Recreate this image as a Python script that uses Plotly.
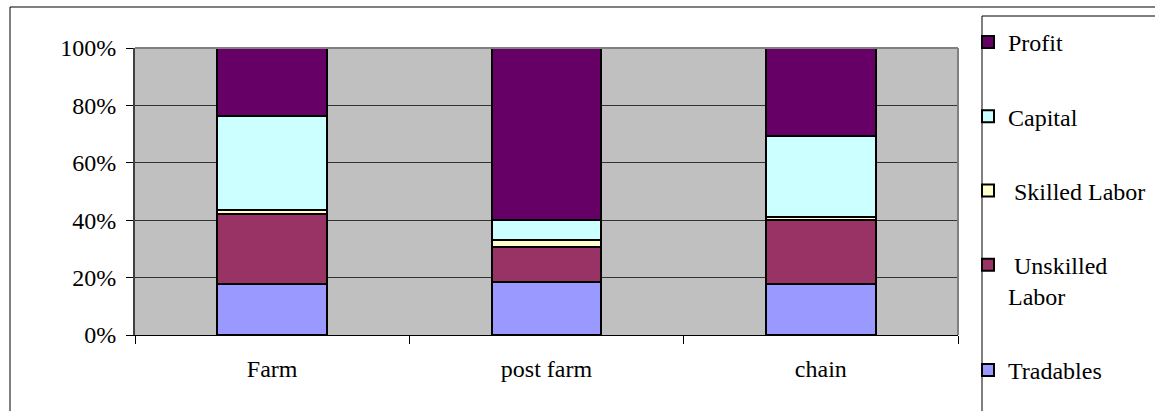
import plotly.graph_objects as go

categories = ["Farm", "post farm", "chain"]
tradables = [17.7, 18.3, 17.8]
unskilled = [24.3, 12.4, 22.2]
skilled = [1.5, 2.5, 1.2]
capital = [32.7, 7.0, 28.1]
profit = [23.8, 59.8, 30.7]

series = [
    ("Tradables", tradables, "#9999FF"),
    (" Unskilled<br>Labor", unskilled, "#993366"),
    (" Skilled Labor", skilled, "#FFFFCC"),
    ("Capital", capital, "#CCFFFF"),
    ("Profit", profit, "#660066"),
]
y_ticks = [0, 20, 40, 60, 80, 100]
y_labels = ["0%", "20%", "40%", "60%", "80%", "100%"]

FONT = "Liberation Serif"

fig = go.Figure()
n = len(series)
for i, (name, vals, col) in enumerate(series):
    fig.add_trace(go.Bar(
        x=categories, y=vals, name=name, marker_color=col,
        marker_line_color="black", marker_line_width=2,
        legendgroup=str(i), legendrank=n - i,
    ))

W, H = 1155, 411
L, R, T, B = 135, 958, 48, 335

def px(x):
    return (x - L) / (R - L)

def py(y):
    return (B - y) / (B - T)

shapes = [
    # outer chart frame
    dict(type="rect", xref="paper", yref="paper", x0=px(10), y0=py(430), x1=px(1180), y1=py(7),
         line=dict(color="black", width=1), fillcolor="rgba(0,0,0,0)", layer="below"),
    # legend box
    dict(type="rect", xref="paper", yref="paper", x0=px(982), y0=py(430), x1=px(1180), y1=py(16),
         line=dict(color="black", width=1), fillcolor="rgba(0,0,0,0)"),
    # plot area border top/right (grey)
    dict(type="line", xref="paper", yref="paper", x0=0, y0=1, x1=1, y1=1,
         line=dict(color="#808080", width=2)),
    dict(type="line", xref="paper", yref="paper", x0=1, y0=0, x1=1, y1=1,
         line=dict(color="#808080", width=2)),
]

fig.update_layout(
    width=W, height=H,
    margin=dict(l=L, r=W - R, t=T, b=H - B, pad=0, autoexpand=False),
    barmode="stack",
    bargap=0.6,
    paper_bgcolor="white",
    plot_bgcolor="#C0C0C0",
    font=dict(family=FONT, size=24, color="black"),
    showlegend=True,
    legend=dict(
        xref="container", yref="container",
        x=968 / W, y=1 - 20 / H, xanchor="left", yanchor="top",
        traceorder="grouped", tracegroupgap=40,
        valign="top", bgcolor="rgba(0,0,0,0)",
        font=dict(family=FONT, size=24, color="black"),
        itemwidth=30, maxheight=420,
    ),
    shapes=shapes,
)
fig.update_xaxes(
    type="category", tickson="boundaries", ticks="outside", ticklen=8,
    tickcolor="black", showline=True, linecolor="black", linewidth=1,
    showgrid=False, tickfont=dict(family=FONT, size=24), ticklabelstandoff=12,
)
fig.update_yaxes(
    range=[0, 100], tickvals=y_ticks, ticktext=y_labels, ticks="outside",
    ticklen=7, tickcolor="black", showline=True, linecolor="#404040", linewidth=2,
    showgrid=True, gridcolor="#333333", gridwidth=1, zeroline=False,
    tickfont=dict(family=FONT, size=24), ticklabelstandoff=5,
)

fig.write_html("out.html", config={"displayModeBar": False},
               post_script="document.body.style.margin='0';")
